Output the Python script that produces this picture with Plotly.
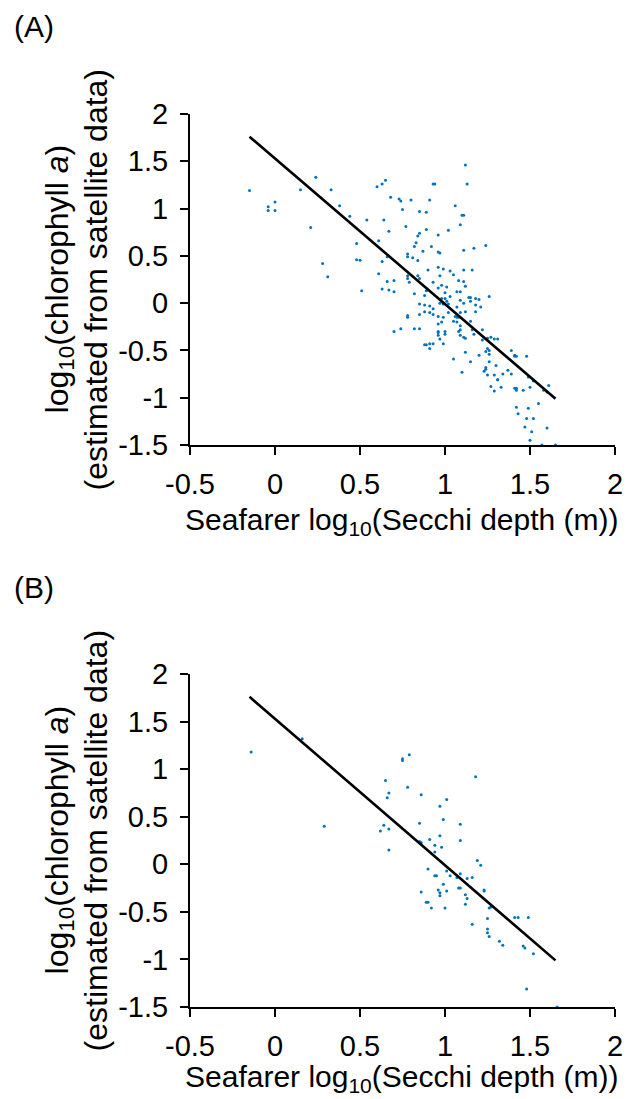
import plotly.graph_objects as go

# ---------------- data ----------------
xA = [-0.15,-0.04,-0.04,0.00,0.00,0.15,0.24,0.33,0.21,0.38,0.44,0.54,0.60,0.63,0.65,0.68,0.64,0.67,0.61,0.48,
      0.48,0.50,0.28,0.31,0.63,0.66,0.61,0.66,0.70,0.63,0.67,0.70,0.51,0.70,
      1.12,0.93,0.94,1.13,0.73,0.74,0.80,0.91,1.06,0.75,0.85,0.89,1.10,1.11,1.09,0.77,0.89,1.02,0.85,0.84,
      0.96,0.83,0.82,0.92,0.87,1.11,1.17,1.24,0.96,0.97,0.78,0.78,0.81,0.84,0.96,0.99,0.90,1.03,1.11,1.16,
      1.05,0.97,0.84,0.85,0.78,0.78,0.79,1.08,1.11,0.93,0.98,0.96,1.01,1.12,0.89,1.00,1.07,1.09,0.82,0.88,
      1.03,1.14,1.15,1.18,1.20,1.26,0.98,1.00,0.97,0.99,1.02,1.01,1.09,1.11,1.15,1.18,1.21,0.85,0.88,0.91,
      0.93,1.07,0.88,0.91,0.93,0.85,0.78,0.78,0.96,0.99,1.02,1.09,1.12,1.18,1.06,1.07,1.08,1.05,1.07,0.98,
      0.96,1.15,1.09,1.16,1.09,1.08,1.22,0.96,0.96,1.00,1.00,0.96,0.82,0.85,0.74,1.09,1.11,1.12,1.17,0.97,
      0.99,1.22,1.25,1.27,1.29,1.31,0.88,0.89,0.91,0.93,0.91,1.25,1.24,1.26,1.26,1.12,1.20,1.05,1.15,1.26,
      1.39,1.41,1.42,1.41,1.48,1.30,1.24,1.24,1.23,1.37,1.34,1.39,1.10,1.25,1.29,1.31,1.31,1.49,1.52,1.52,
      1.27,1.29,1.33,1.41,1.42,1.42,1.46,1.50,1.61,1.58,1.60,1.55,1.42,1.49,1.43,1.48,1.52,1.47,1.51,1.60,
      1.50,1.57,1.65]
yA = [1.19,1.02,0.98,1.07,0.98,1.20,1.33,1.20,0.80,1.03,0.92,0.88,1.23,1.26,1.30,1.12,0.88,0.76,0.66,0.63,
      0.46,0.455,0.42,0.28,0.44,0.49,0.31,0.23,0.24,0.15,0.14,0.12,0.13,-0.30,
      1.46,1.26,1.26,1.26,1.10,1.08,1.09,1.09,1.03,0.99,0.97,0.96,0.93,0.93,0.83,0.81,0.78,0.77,0.74,0.71,
      0.72,0.64,0.60,0.60,0.55,0.56,0.58,0.61,0.54,0.53,0.52,0.49,0.48,0.45,0.38,0.36,0.35,0.34,0.35,0.35,
      0.30,0.29,0.29,0.26,0.29,0.26,0.22,0.24,0.23,0.22,0.19,0.16,0.17,0.18,0.13,0.11,0.12,0.12,0.10,0.08,
      0.07,0.06,0.06,0.05,0.04,0.07,0.05,0.05,0.00,-0.01,-0.01,0.02,0.03,0.00,0.02,-0.02,-0.04,-0.01,-0.02,-0.03,
      -0.06,-0.04,-0.09,-0.10,-0.12,-0.12,-0.13,-0.15,-0.14,-0.15,-0.10,-0.10,-0.09,-0.09,-0.14,-0.15,-0.15,-0.19,-0.20,-0.20,
      -0.22,-0.19,-0.24,-0.28,-0.28,-0.30,-0.28,-0.30,-0.31,-0.30,-0.33,-0.34,-0.27,-0.27,-0.27,-0.34,-0.36,-0.37,-0.33,-0.38,
      -0.43,-0.39,-0.37,-0.36,-0.38,-0.38,-0.44,-0.44,-0.43,-0.43,-0.48,-0.48,-0.51,-0.50,-0.54,-0.52,-0.55,-0.59,-0.62,-0.62,
      -0.50,-0.55,-0.56,-0.56,-0.56,-0.66,-0.68,-0.70,-0.72,-0.71,-0.75,-0.75,-0.73,-0.76,-0.76,-0.81,-0.81,-0.78,-0.82,-0.82,
      -0.88,-0.93,-0.89,-0.90,-0.90,-0.92,-0.92,-0.89,-0.87,-0.92,-0.94,-1.06,-1.10,-1.11,-1.17,-1.22,-1.22,-1.31,-1.36,-1.32,
      -1.45,-1.50,-1.50]

xB = [-0.14,0.16,0.29,0.65,0.66,0.67,0.64,0.62,0.67,0.67,
      0.75,0.75,0.79,0.78,0.86,1.18,1.01,0.97,0.99,0.85,1.09,0.97,0.91,0.85,0.86,1.09,0.94,0.98,0.94,1.19,
      1.21,0.90,1.01,0.94,0.95,1.03,1.09,1.07,1.13,1.16,0.99,1.08,1.09,0.96,1.01,0.86,0.97,0.97,1.23,1.23,
      1.12,1.13,0.89,0.90,1.12,0.92,1.00,1.26,1.27,1.25,1.41,1.43,1.49,1.16,1.25,1.25,1.26,1.32,1.34,1.46,
      1.47,1.52,1.48,1.66]
yB = [1.18,1.32,0.40,0.88,0.70,0.75,0.41,0.35,0.37,0.15,
      1.09,1.11,1.15,0.81,0.73,0.92,0.68,0.61,0.47,0.43,0.42,0.30,0.26,0.24,0.23,0.25,0.20,0.18,0.13,0.04,
      -0.01,-0.05,-0.07,-0.12,-0.12,-0.12,-0.10,-0.14,-0.15,-0.14,-0.21,-0.25,-0.25,-0.27,-0.28,-0.29,-0.30,-0.33,-0.28,-0.27,
      -0.32,-0.36,-0.40,-0.40,-0.42,-0.46,-0.46,-0.46,-0.45,-0.57,-0.56,-0.56,-0.56,-0.63,-0.68,-0.72,-0.76,-0.81,-0.85,-0.86,
      -0.88,-0.94,-1.31,-1.50]

fit_x = [-0.15, 1.65]
fit_y = [1.76, -1.01]

x_ticks = [-0.5, 0, 0.5, 1, 1.5, 2]
x_ticklabels = ["-0.5", "0", "0.5", "1", "1.5", "2"]
y_ticks = [-1.5, -1, -0.5, 0, 0.5, 1, 1.5, 2]
y_ticklabels = ["-1.5", "-1", "-0.5", "0", "0.5", "1", "1.5", "2"]
panel_labels = ["(A)", "(B)"]
x_title = "Seafarer log<sub>10</sub>(Secchi depth (m))"
y_title1 = "log<sub>10</sub>(chlorophyll <i>a</i>)"
y_title2 = "(estimated from satellite data)"

# ---------------- figure ----------------
FONT = "Arial, Liberation Sans, sans-serif"
DOT = "#0072BD"
fig = go.Figure()

for i, (xs, ys) in enumerate([(xA, yA), (xB, yB)]):
    xa = "x" if i == 0 else "x2"
    ya = "y" if i == 0 else "y2"
    fig.add_trace(go.Scatter(x=xs, y=ys, mode="markers", xaxis=xa, yaxis=ya,
                             marker=dict(color=DOT, size=3.0, line=dict(width=0)),
                             cliponaxis=False, showlegend=False))
    fig.add_trace(go.Scatter(x=fit_x, y=fit_y, mode="lines", xaxis=xa, yaxis=ya,
                             line=dict(color="black", width=2.6), showlegend=False))

ax_common = dict(showgrid=False, zeroline=False, showline=True, linecolor="black", linewidth=2,
                 ticks="outside", ticklen=8, tickwidth=2, tickcolor="black",
                 tickfont=dict(family=FONT, size=29, color="black"))

domA = [0.6293, 1.0]
domB = [0.0, 0.3729]
fig.update_layout(
    width=628, height=1091,
    margin=dict(l=182, r=21, t=106, b=92),
    paper_bgcolor="white", plot_bgcolor="white",
    xaxis=dict(range=[-0.5, 2], tickvals=x_ticks, ticktext=x_ticklabels, anchor="y",
               ticklabelstandoff=4, **ax_common),
    yaxis=dict(range=[-1.5, 2], tickvals=y_ticks, ticktext=y_ticklabels, domain=domA, anchor="x",
               ticklabelstandoff=6, **ax_common),
    xaxis2=dict(range=[-0.5, 2], tickvals=x_ticks, ticktext=x_ticklabels, anchor="y2",
                ticklabelstandoff=4, **ax_common),
    yaxis2=dict(range=[-1.5, 2], tickvals=y_ticks, ticktext=y_ticklabels, domain=domB, anchor="x2",
                ticklabelstandoff=6, **ax_common),
)

ann = []
def px2x(px):
    return (px - 190) / 425.0
def py2y(py):
    return 1 - (py - 114) / 893.0

for label, cy, yc, xt in [(panel_labels[0], 27, 0.8147, 521), (panel_labels[1], 587, 0.1865, 1078)]:
    ann.append(dict(text=label, xref="paper", yref="paper", x=px2x(34), y=py2y(cy),
                    xanchor="center", yanchor="middle", showarrow=False,
                    font=dict(family=FONT, size=30, color="black")))
    ann.append(dict(text=y_title1, xref="paper", yref="paper", x=px2x(59), y=yc, textangle=-90,
                    xanchor="center", yanchor="middle", showarrow=False,
                    font=dict(family=FONT, size=32, color="black")))
    ann.append(dict(text=y_title2, xref="paper", yref="paper", x=px2x(96), y=yc, textangle=-90,
                    xanchor="center", yanchor="middle", showarrow=False,
                    font=dict(family=FONT, size=32, color="black")))
    ann.append(dict(text=x_title, xref="paper", yref="paper", x=px2x(402), y=py2y(xt),
                    xanchor="center", yanchor="middle", showarrow=False,
                    font=dict(family=FONT, size=30, color="black")))
fig.update_layout(annotations=ann)

fig.write_html("out.html")
